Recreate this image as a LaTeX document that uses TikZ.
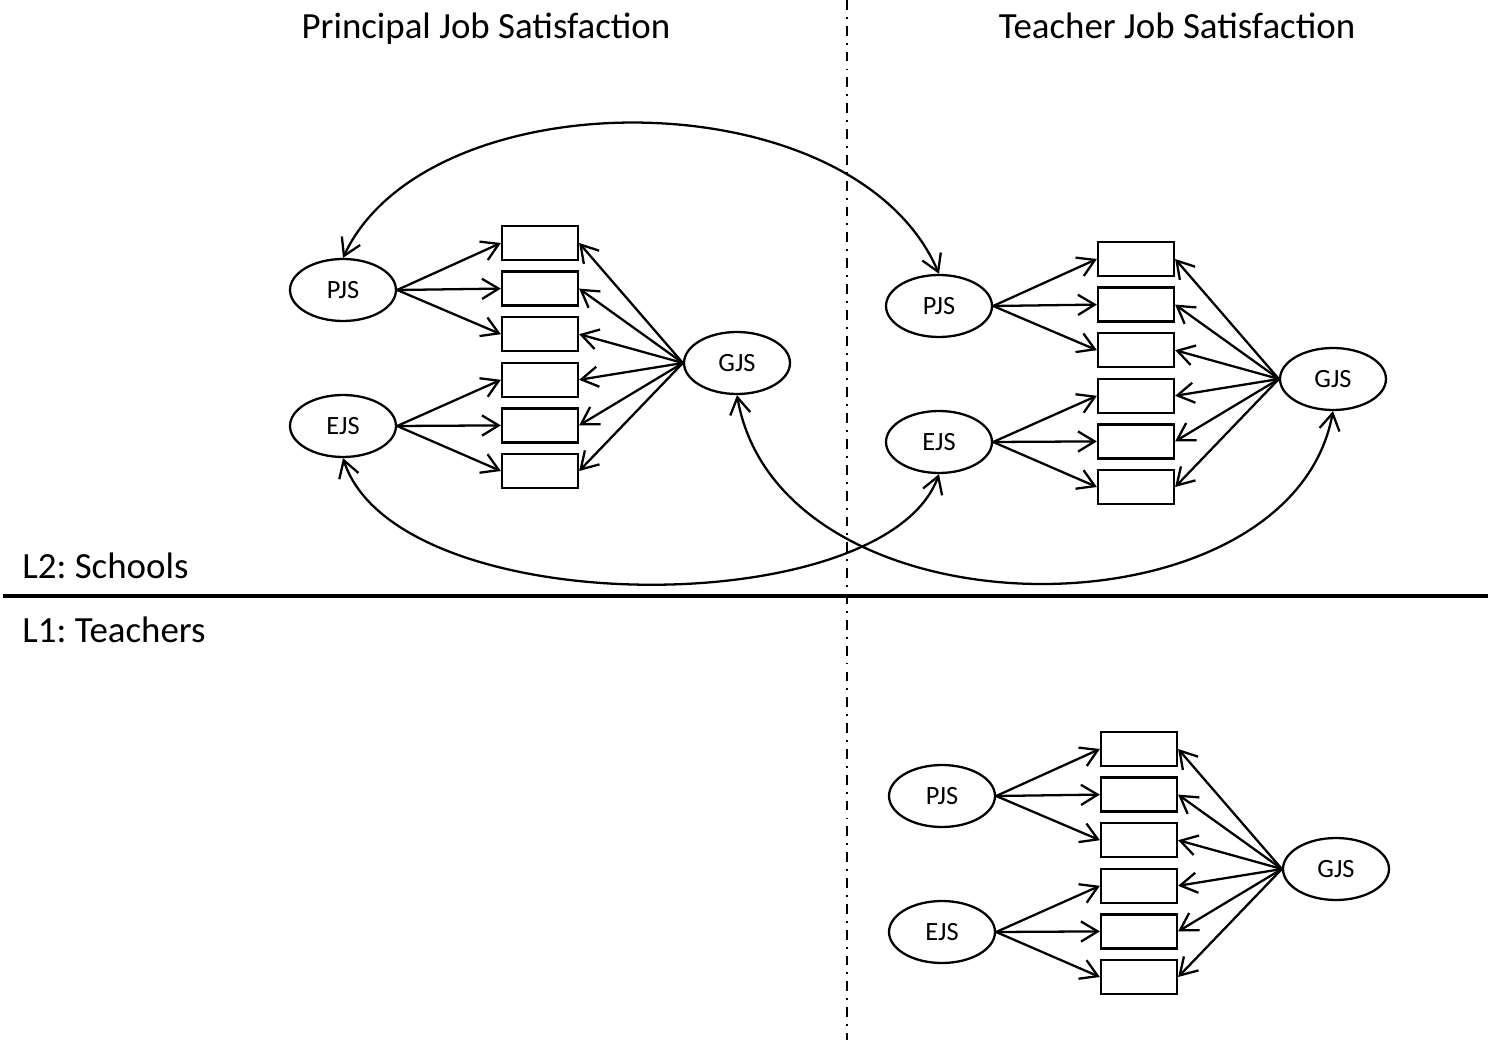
\documentclass[tikz,border=0pt]{standalone}
\usepackage{fontspec}
\setmainfont{Carlito}
\usepackage{tikz}
\usetikzlibrary{arrows.meta,shapes}
\frenchspacing
\tikzset{
 barb/.style={line width=1.3pt, -{Straight Barb[length=9.5pt,width=11.5pt]}}
}
\tikzstyle{latent}=[draw, ellipse, line width=1.3pt, minimum width=2.12cm, minimum height=1.24cm, inner sep=0pt, font=\fontsize{15}{18}\selectfont]
\tikzstyle{item}=[draw, rectangle, line width=1.3pt, minimum width=1.52cm, minimum height=0.68cm, inner sep=0pt]
\tikzstyle{covar}=[line width=1.3pt, {Straight Barb[length=9.5pt,width=11.5pt]}-{Straight Barb[length=9.5pt,width=11.5pt]}]
\tikzstyle{heading}=[font=\fontsize{21}{25}\selectfont, inner sep=0pt]
\newcommand{\jsmodel}[2]{
 \begin{scope}[shift={#2}]
 \node[latent] (#1pjs) at (0,0) {PJS};
 \node[latent] (#1ejs) at (0,136) {EJS};
 \node[latent] (#1gjs) at (394,73) {GJS};
 \foreach \k in {1,...,6}
  \node[item] (#1b\k) at (197,{-47+45.6*(\k-1)}) {};
 \foreach \k in {1,2,3}
  \draw[barb] (#1pjs.east) -- (#1b\k.west);
 \foreach \k in {4,5,6}
  \draw[barb] (#1ejs.east) -- (#1b\k.west);
 \foreach \k in {1,...,6}
  \draw[barb] (#1gjs.west) -- (#1b\k.east);
 \end{scope}
}

\begin{document}
\begin{tikzpicture}[x=0.02cm, y=-0.02cm]
 \useasboundingbox (0,0) rectangle (1488,1040);
%
 \draw[line width=2.3pt] (3,596) -- (1488,596);
 \draw[line width=1.1pt, dash pattern=on 5.6pt off 4pt on 1.1pt off 4pt] (847,0) -- (847,1040);
%
 \node[heading, anchor=base] (ptitle) at (486,39) {Principal Job Satisfaction};
 \node[heading, anchor=base] (ttitle) at (1177,39) {Teacher Job Satisfaction};
 \node[heading, anchor=base west] (lschool) at (22,578) {L2: Schools};
 \node[heading, anchor=base west] (lteach) at (22,642) {L1: Teachers};
%
 \jsmodel{p}{(343,290)}
 \jsmodel{t}{(939,306)}
 \jsmodel{w}{(942,796)}
%
 \draw[covar] (ppjs.north) .. controls +(85,-182) and +(-85,-198) .. (tpjs.north);
 \draw[covar] (pejs.south) .. controls +(54,165) and +(-54,149) .. (tejs.south);
 \draw[covar] (pgjs.south) .. controls +(43,248) and +(-43,232) .. (tgjs.south);
\end{tikzpicture}
\end{document}
